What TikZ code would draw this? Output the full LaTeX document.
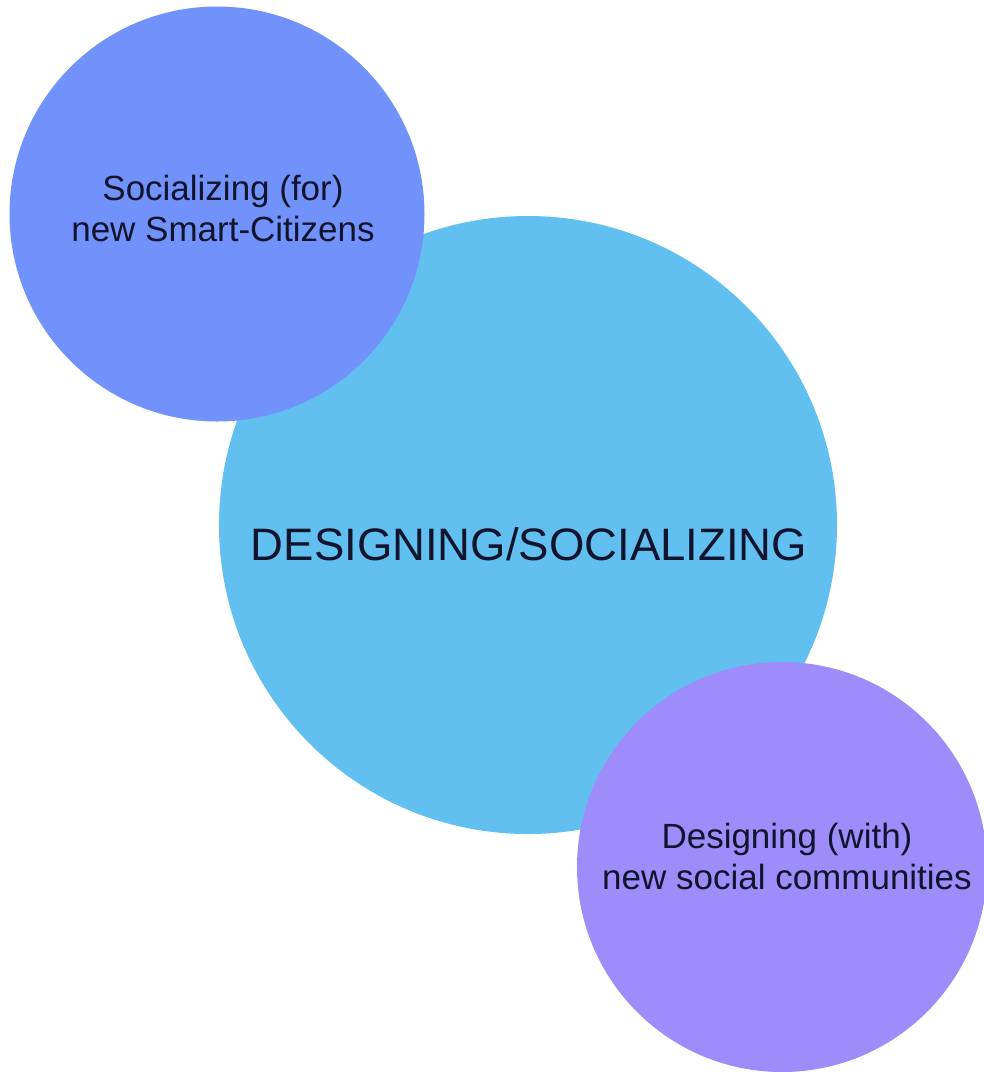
\documentclass[tikz,border=0pt]{standalone}
\usepackage{fontspec}
\setmainfont{Liberation Sans}
\definecolor{bigblue}{RGB}{98,192,240}
\definecolor{topblue}{RGB}{112,146,250}
\definecolor{lilac}{RGB}{157,140,250}
\definecolor{txt}{RGB}{18,20,45}
\begin{document}
\begin{tikzpicture}[x=1pt,y=-1pt,
  disc/.style={circle,inner sep=0pt,draw=none},
  small/.style={align=center,text=txt,font=\fontsize{35}{41}\selectfont,inner sep=0pt},
  large/.style={text=txt,font=\fontsize{45.5}{50}\selectfont,inner sep=0pt}]
\useasboundingbox[fill=white] (0,0) rectangle (984,1072);
\node[disc,fill=bigblue,minimum size=618pt] (big) at (528,525) {};
\node[disc,fill=topblue,minimum size=415pt] (soc) at (217,214) {};
\node[disc,fill=lilac,minimum size=410pt] (des) at (782,867) {};
\node[large] (bigt) at (529,544) {DESIGNING/SOCIALIZING};
\node[small] (soct) at (223,208) {Socializing (for)\\new Smart-Citizens};
\node[small] (dest) at (787,856) {Designing (with)\\new social communities};
\end{tikzpicture}
\end{document}
